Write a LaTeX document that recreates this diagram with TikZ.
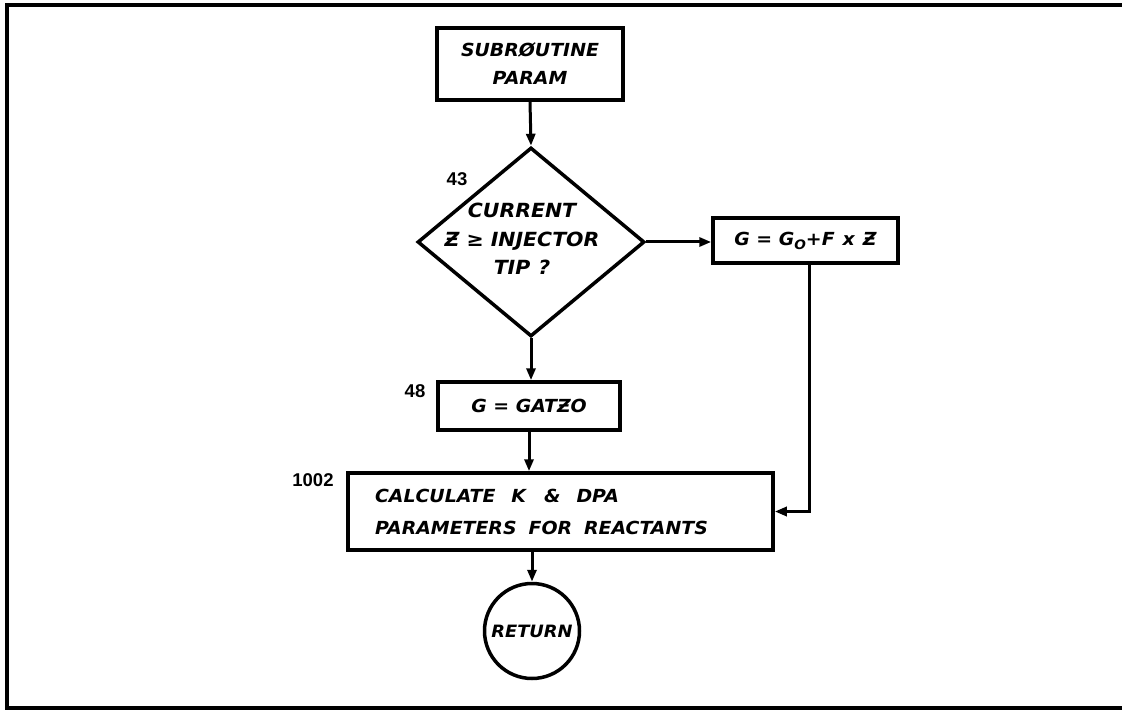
\documentclass[tikz,border=0pt]{standalone}
\usepackage{fontspec}
\usetikzlibrary{shapes.geometric,arrows.meta}
\newfontfamily\handfont[FakeStretch=1.05]{DejaVu Sans}
\newfontfamily\numfont{Liberation Sans}
\newcommand{\zbar}{Ƶ}
\begin{document}
\begin{tikzpicture}[x=1pt,y=-1pt,
  hand/.style={font=\handfont\bfseries\itshape\fontsize{18}{28}\selectfont},
  box/.style={draw,line width=3.5pt,rectangle,inner sep=0pt,hand,align=center},
  flow/.style={line width=3pt,-{Triangle[length=12pt,width=9pt]}},
  num/.style={font=\numfont\bfseries\fontsize{18.5}{18.5}\selectfont,inner sep=0pt}]
\useasboundingbox (0,0) rectangle (1122,711);
% open frame
\draw[line width=4.5pt] (1122,5) -- (7,5) -- (7,708) -- (1122,708);

% flowchart blocks
\node[box,minimum width=186pt,minimum height=72pt] (start) at (530,64) {SUBRØUTINE\\PARAM};

\node[draw,diamond,line width=3.5pt,minimum width=227pt,minimum height=189pt,inner sep=0pt] (test) at (531,242) {};
\node[align=center,inner sep=0pt,font=\handfont\bfseries\itshape\fontsize{19.5}{28.5}\selectfont] (testtxt) at (522,239) {CURRENT\\\zbar{} ≥ INJECTOR\\TIP\hspace{8pt}?};
\node[num] (l43) at (457,179) {43};

\node[box,minimum width=185pt,minimum height=45pt] (gbox) at (805.5,240.5)
  {G = G{\fontsize{13}{13}\selectfont\raisebox{-4pt}{O}}+F\hspace{8pt}x\hspace{8pt}\zbar};

\node[box,minimum width=182pt,minimum height=48pt] (gatzo) at (529,406) {G = GAT\zbar O};
\node[num] (l48) at (415,391) {48};

\node[box,align=left,inner xsep=27pt,text width=371pt,minimum height=77pt,
  font=\handfont\bfseries\itshape\fontsize{18}{32}\selectfont] (calc) at (560.5,511.5)
  {CALCULATE\hspace{16pt}K\hspace{18pt}\&\hspace{16pt}DPA\\PARAMETERS\hspace{12pt}FOR\hspace{12pt}REACTANTS};
\node[num] (l1002) at (313,480) {1002};

\node[draw,circle,line width=3.5pt,minimum size=95pt,inner sep=0pt,
  font=\handfont\bfseries\itshape\fontsize{17}{17}\selectfont] (ret) at (532,631) {RETURN};

% connectors
\draw[flow] (start.south) -- (test.north);
\draw[flow] (test.east) -- (test.east -| gbox.west);
\draw[flow] (test.south) -- (test.south |- gatzo.north);
\draw[flow] (gatzo.south) -- (gatzo.south |- calc.north);
\draw[flow] ([xshift=3.5pt]gbox.south) |- (calc.east);
\draw[flow] (ret.north |- calc.south) -- (ret.north);
\end{tikzpicture}
\end{document}
